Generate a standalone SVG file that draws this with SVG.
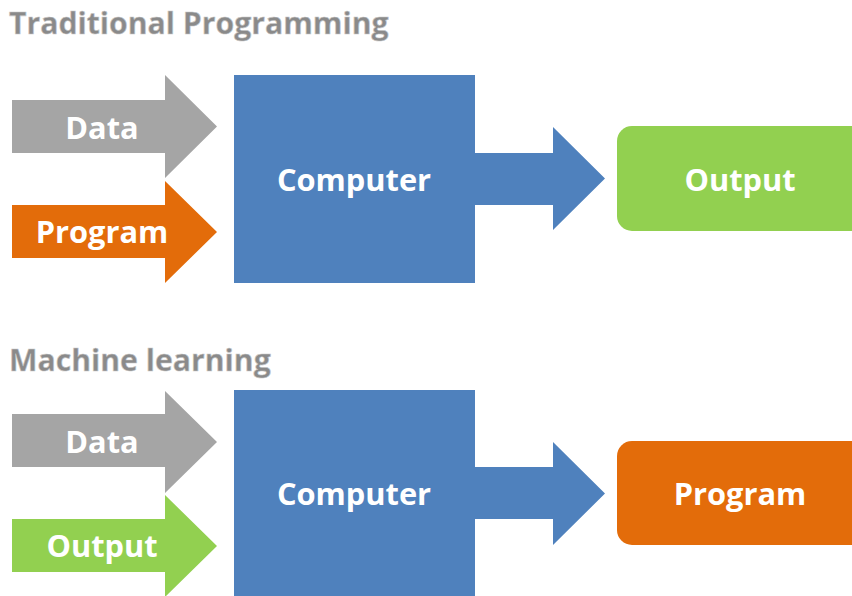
<svg xmlns="http://www.w3.org/2000/svg" width="852" height="596" viewBox="0 0 852 596">
  <style>
    .title { font-family: "Open Sans", "Liberation Sans", sans-serif; font-weight: 700; font-size: 30.2px; fill: #8a8a8a; stroke: #c8c8c8; stroke-width: 0.6px; }
    .lbl { font-family: "Open Sans", "Liberation Sans", sans-serif; font-weight: 700; font-size: 30.8px; fill: #ffffff; text-anchor: middle; }
    .gray { fill: #a5a5a5; }
    .orange { fill: #e36c0a; }
    .green { fill: #92d050; }
    .blue { fill: #4f81bd; }
  </style>

  <!-- Traditional programming -->
  <text class="title" x="9" y="34">Traditional Programming</text>

  <g id="data-in-1">
    <path class="gray" d="M12,100 H165 V75 L217,126.5 L165,178 V153 H12 Z"/>
    <text class="lbl" x="102" y="139">Data</text>
  </g>
  <g id="program-in-1">
    <path class="orange" d="M12,205 H165 V181 L217,232 L165,283 V258 H12 Z"/>
    <text class="lbl" x="102" y="243">Program</text>
  </g>
  <g id="computer-1">
    <rect class="blue" x="234" y="75" width="241" height="208"/>
    <text class="lbl" x="354" y="191">Computer</text>
  </g>
  <g id="connectors">
    <path class="blue" d="M474,153 H553 V127 L605,178.5 L553,230 V205 H474 Z"/>
    <path class="blue" d="M474,467 H553 V442 L605,493.5 L553,545 V519 H474 Z"/>
  </g>
  <g id="output-1">
    <rect class="green" x="617" y="126" width="250" height="105" rx="15"/>
    <text class="lbl" x="740" y="191">Output</text>
  </g>

  <!-- Machine learning -->
  <text class="title" x="9" y="371">Machine learning</text>

  <g id="data-in-2">
    <path class="gray" d="M12,414 H165 V391 L217,442 L165,493 V467 H12 Z"/>
    <text class="lbl" x="102" y="453">Data</text>
  </g>
  <g id="output-in-2">
    <path class="green" d="M12,519 H165 V495 L217,546 L165,597 V572 H12 Z"/>
    <text class="lbl" x="102" y="557">Output</text>
  </g>
  <g id="computer-2">
    <rect class="blue" x="234" y="390" width="241" height="210"/>
    <text class="lbl" x="354" y="505">Computer</text>
  </g>
  <g id="program-2">
    <rect class="orange" x="617" y="441" width="250" height="104" rx="15"/>
    <text class="lbl" x="740" y="505">Program</text>
  </g>
</svg>
